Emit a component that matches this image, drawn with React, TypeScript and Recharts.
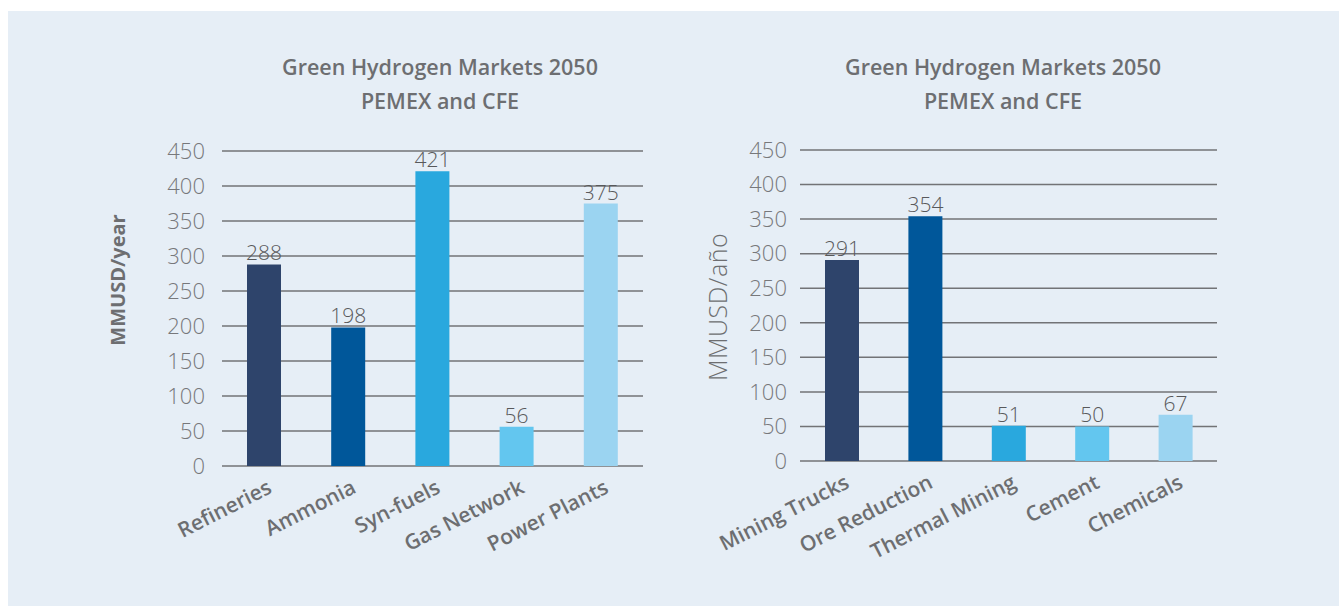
import React from 'react';
import { BarChart, Bar, XAxis, YAxis, CartesianGrid, Cell, LabelList } from 'recharts';

const leftCategories = ['Refineries', 'Ammonia', 'Syn-fuels', 'Gas Network', 'Power Plants'];
const leftValues = [288, 198, 421, 56, 375];

const rightCategories = ['Mining Trucks', 'Ore Reduction', 'Thermal Mining', 'Cement', 'Chemicals'];
const rightValues = [291, 354, 51, 50, 67];

const yTicks = [0, 50, 100, 150, 200, 250, 300, 350, 400, 450];
const barColors = ['#2e446b', '#00579a', '#29a8de', '#63c6ef', '#9bd4f1'];

const titleLines = ['Green Hydrogen Markets 2050', 'PEMEX and CFE'];

const FONT = '"Open Sans", "Noto Sans", sans-serif';
const GRAY = '#6d6e71';

const CategoryTick = (props: any) => {
  const { x, y, payload } = props;
  return (
    <g transform={`translate(${x + 9},${y + 18})`}>
      <text
        x={0}
        y={0}
        textAnchor="end"
        transform="rotate(-27)"
        fill={GRAY}
        fontSize={21}
        fontWeight={600}
        fontFamily={FONT}
      >
        {payload.value}
      </text>
    </g>
  );
};

interface PanelProps {
  categories: string[];
  values: number[];
  yLabel: string;
  yLabelBold: boolean;
  yLabelX: number;
  yLabelY: number;
  left: number;
  width: number;
  margin: { top: number; right: number; bottom: number; left: number };
  tickGap: number;
  titleCenter: number;
}

const MarketChart: React.FC<PanelProps> = ({
  categories, values, yLabel, yLabelBold, yLabelX, yLabelY, left, width, margin, tickGap, titleCenter,
}) => {
  const data = categories.map((name, i) => ({ name, value: values[i] }));
  return (
    <div style={{ position: 'absolute', left, top: 0, width, height: 595 }}>
      <div
        style={{
          position: 'absolute',
          left: titleCenter - 250,
          width: 500,
          top: 39,
          textAlign: 'center',
          fontFamily: FONT,
          fontWeight: 600,
          fontSize: 21.5,
          lineHeight: '34px',
          color: GRAY,
        }}
      >
        {titleLines.map((t) => (
          <div key={t}>{t}</div>
        ))}
      </div>
      <div
        style={{
          position: 'absolute',
          left: yLabelX - 150,
          top: yLabelY - 15,
          width: 300,
          height: 30,
          lineHeight: '30px',
          textAlign: 'center',
          transform: 'rotate(-90deg)',
          fontFamily: FONT,
          fontSize: yLabelBold ? 20 : 25,
          fontWeight: yLabelBold ? 700 : 300,
          letterSpacing: yLabelBold ? 0 : 0.5,
          color: GRAY,
          zIndex: 2,
        }}
      >
        {yLabel}
      </div>
      <BarChart width={width} height={595} data={data} margin={margin}>
        <CartesianGrid vertical={false} stroke="#727376" strokeWidth={1.5} />
        <XAxis
          dataKey="name"
          axisLine={false}
          tickLine={false}
          interval={0}
          height={100}
          tick={<CategoryTick />}
        />
        <YAxis
          domain={[0, 450]}
          ticks={yTicks}
          axisLine={false}
          tickLine={false}
          tickSize={0}
          tickMargin={tickGap}
          width={60}
          tick={{ fill: '#77787b', fontSize: 22, fontWeight: 300, fontFamily: FONT }}
        />
        <Bar dataKey="value" barSize={34} isAnimationActive={false}>
          {data.map((d, i) => (
            <Cell key={d.name} fill={barColors[i]} />
          ))}
          <LabelList
            dataKey="value"
            position="top"
            offset={4}
            fill="#58595b"
            fontSize={21}
            fontWeight={300}
            fontFamily={FONT}
          />
        </Bar>
      </BarChart>
    </div>
  );
};

export default function App() {
  return (
    <div
      style={{
        position: 'absolute',
        left: 8,
        top: 11,
        width: 1331,
        height: 595,
        background: '#e6eef6',
        overflow: 'hidden',
      }}
    >
      <MarketChart
        categories={leftCategories}
        values={leftValues}
        yLabel="MMUSD/year"
        yLabelBold={true}
        yLabelX={110}
        yLabelY={269}
        left={0}
        width={660}
        margin={{ top: 140, right: 25, bottom: 40, left: 154 }}
        tickGap={17}
        titleCenter={432}
      />
      <MarketChart
        categories={rightCategories}
        values={rightValues}
        yLabel="MMUSD/año"
        yLabelBold={false}
        yLabelX={49}
        yLabelY={296}
        left={660}
        width={671}
        margin={{ top: 139, right: 122, bottom: 45, left: 72 }}
        tickGap={13}
        titleCenter={335}
      />
    </div>
  );
}
